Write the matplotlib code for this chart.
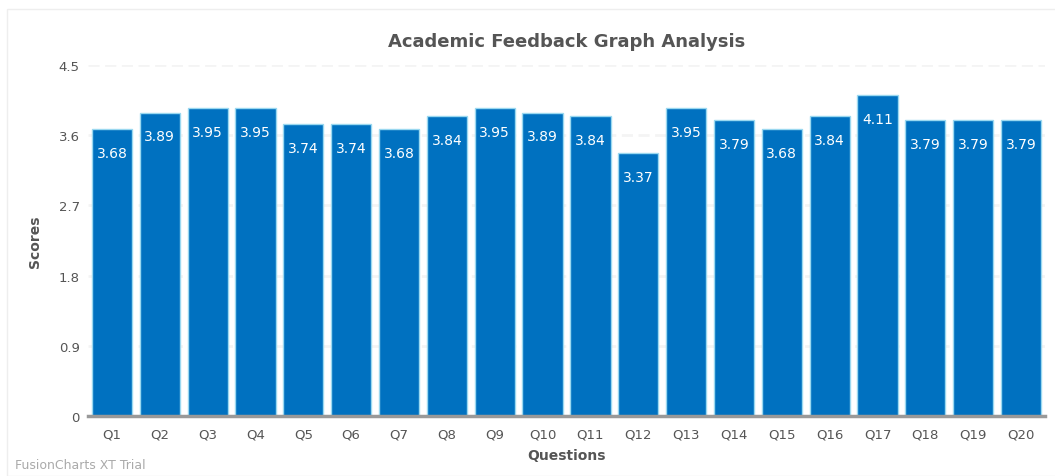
import matplotlib.pyplot as plt
from matplotlib.patches import Rectangle

questions = ["Q%d" % i for i in range(1, 21)]
scores = [3.68, 3.89, 3.95, 3.95, 3.74, 3.74, 3.68, 3.84, 3.95, 3.89,
          3.84, 3.37, 3.95, 3.79, 3.68, 3.84, 4.11, 3.79, 3.79, 3.79]
yticks = [0, 0.9, 1.8, 2.7, 3.6, 4.5]
ytick_labels = ["0", "0.9", "1.8", "2.7", "3.6", "4.5"]

plt.rcParams["font.family"] = ["DejaVu Sans"]
fig = plt.figure(figsize=(10.55, 4.77), dpi=100)
ax = fig.add_axes([0.0834, 0.1258, 0.9071, 0.7358])

# faint chart border
fig.patches.append(Rectangle((7 / 1055, 0), 1, 1 - 10 / 477, transform=fig.transFigure,
                             fill=False, edgecolor="#eeeeee", linewidth=1))

x = range(len(questions))
bars = ax.bar(x, scores, width=0.84, color="#0071c0", edgecolor="#9ad8f0",
              linewidth=1.0, zorder=3)

for xi, v in zip(x, scores):
    ax.annotate(f"{v:.2f}", (xi, v), xytext=(0, -17), textcoords="offset points",
                ha="center", va="center", color="white", fontsize=10, zorder=4)

ax.set_xlim(-0.5, len(questions) - 0.5)
ax.set_ylim(0, 4.5)
ax.set_yticks(yticks)
ax.set_yticklabels(ytick_labels)
ax.set_xticks(list(x))
ax.set_xticklabels(questions)
ax.tick_params(axis="both", length=0, labelsize=9.5, labelcolor="#555555")
ax.tick_params(axis="x", pad=8)
ax.tick_params(axis="y", pad=6)

for y in yticks[1:]:
    ax.axhline(y, color="#f4f4f4", linewidth=2, linestyle=(0, (4, 2)), zorder=1)

for s in ["top", "right", "left"]:
    ax.spines[s].set_visible(False)
ax.spines["bottom"].set_color("#999999")
ax.spines["bottom"].set_linewidth(2.5)
ax.spines["bottom"].set_zorder(5)

ax.set_title("Academic Feedback Graph Analysis", fontsize=13, fontweight="bold",
             color="#555555", pad=14)
ax.set_xlabel("Questions", fontsize=10, fontweight="bold", color="#555555", labelpad=6)
ax.set_ylabel("Scores", fontsize=10, fontweight="bold", color="#555555", labelpad=12)

fig.text(15 / 1055, 1 - 472 / 477, "FusionCharts XT Trial", fontsize=9,
         color="#aaaaaa", ha="left", va="bottom")

fig.savefig("out.png", dpi=100, facecolor="white")
